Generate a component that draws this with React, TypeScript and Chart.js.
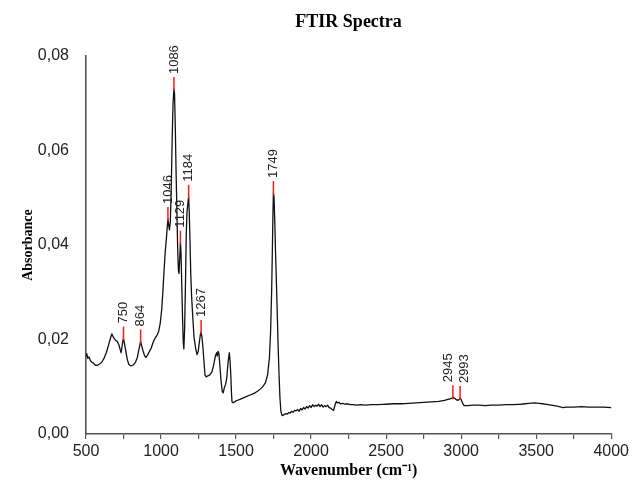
import React, { useEffect, useRef } from 'react';
import { Chart, registerables } from 'chart.js';

Chart.register(...registerables);

const wavenumbers = [
  500, 505, 512, 520, 530, 540, 550, 560, 575, 590, 605, 620, 635, 650, 662, 672, 682, 695, 708, 720,
  728, 734, 740, 746, 750, 756, 765, 775, 785, 800, 815, 830, 842, 852, 860, 864, 870, 880, 890, 898,
  906, 915, 925, 935, 945, 955, 965, 975, 985, 995, 1005, 1012, 1020, 1028, 1036, 1042, 1046, 1050, 1056, 1062,
  1068, 1074, 1080, 1086, 1090, 1095, 1100, 1106, 1111, 1116, 1120, 1125, 1129, 1133, 1138, 1143, 1148, 1152, 1157, 1163,
  1168, 1173, 1178, 1184, 1188, 1193, 1198, 1204, 1212, 1220, 1230, 1240, 1248, 1256, 1262, 1267, 1273, 1280, 1287, 1293,
  1300, 1312, 1325, 1340, 1352, 1362, 1370, 1375, 1380, 1386, 1392, 1400, 1408, 1414, 1422, 1430, 1438, 1444, 1450, 1455,
  1460, 1465, 1469, 1473, 1480, 1500, 1530, 1560, 1590, 1620, 1650, 1675, 1695, 1710, 1722, 1730, 1737, 1742, 1746, 1749,
  1753, 1758, 1763, 1769, 1775, 1780, 1786, 1792, 1798, 1805, 1812, 1820, 1830, 1840, 1850, 1860, 1870, 1880, 1890, 1900,
  1910, 1920, 1930, 1940, 1950, 1960, 1970, 1980, 1990, 2000, 2010, 2020, 2030, 2040, 2050, 2060, 2070, 2080, 2090, 2100,
  2110, 2120, 2130, 2140, 2150, 2160, 2168, 2175, 2185, 2195, 2210, 2225, 2240, 2260, 2280, 2300, 2330, 2360, 2400, 2450,
  2500, 2550, 2600, 2650, 2700, 2750, 2800, 2850, 2890, 2920, 2940, 2945, 2955, 2970, 2985, 2993, 3000, 3010, 3020, 3040,
  3080, 3120, 3160, 3200, 3250, 3300, 3350, 3400, 3450, 3490, 3520, 3560, 3600, 3640, 3680, 3700, 3750, 3800, 3850, 3900,
  3950, 4000,
];

const absorbance = [
  0.0165, 0.0170, 0.0160, 0.0163, 0.0155, 0.0152, 0.0150, 0.0146, 0.0145, 0.0148, 0.0152, 0.0160, 0.0172, 0.0188, 0.0202, 0.0212, 0.0205, 0.0199, 0.0196, 0.0188,
  0.0178, 0.0172, 0.0185, 0.0198, 0.0202, 0.0192, 0.0176, 0.0158, 0.0147, 0.0144, 0.0146, 0.0152, 0.0162, 0.0178, 0.0190, 0.0196, 0.0188, 0.0176, 0.0166, 0.0162,
  0.0165, 0.0170, 0.0176, 0.0182, 0.0192, 0.0200, 0.0205, 0.0210, 0.0218, 0.0235, 0.0265, 0.0300, 0.0345, 0.0385, 0.0415, 0.0440, 0.0455, 0.0445, 0.0432, 0.0450,
  0.0520, 0.0620, 0.0700, 0.0730, 0.0720, 0.0650, 0.0560, 0.0470, 0.0390, 0.0345, 0.0340, 0.0375, 0.0405, 0.0385, 0.0320, 0.0250, 0.0195, 0.0180, 0.0220, 0.0320,
  0.0420, 0.0470, 0.0485, 0.0502, 0.0470, 0.0410, 0.0340, 0.0290, 0.0245, 0.0205, 0.0182, 0.0168, 0.0175, 0.0196, 0.0210, 0.0216, 0.0205, 0.0180, 0.0150, 0.0125,
  0.0121, 0.0123, 0.0125, 0.0132, 0.0148, 0.0165, 0.0172, 0.0165, 0.0175, 0.0170, 0.0145, 0.0112, 0.0090, 0.0087, 0.0098, 0.0105, 0.0118, 0.0142, 0.0160, 0.0172,
  0.0155, 0.0125, 0.0090, 0.0068, 0.0066, 0.0070, 0.0074, 0.0078, 0.0082, 0.0086, 0.0092, 0.0099, 0.0108, 0.0125, 0.0160, 0.0215, 0.0300, 0.0390, 0.0470, 0.0510,
  0.0500, 0.0450, 0.0385, 0.0320, 0.0250, 0.0190, 0.0130, 0.0080, 0.0050, 0.0040, 0.0039, 0.0041, 0.0043, 0.0042, 0.0045, 0.0044, 0.0048, 0.0046, 0.0050, 0.0049,
  0.0052, 0.0048, 0.0054, 0.0051, 0.0056, 0.0053, 0.0058, 0.0055, 0.0060, 0.0056, 0.0062, 0.0058, 0.0061, 0.0059, 0.0063, 0.0058, 0.0062, 0.0057, 0.0060, 0.0058,
  0.0061, 0.0056, 0.0055, 0.0052, 0.0050, 0.0062, 0.0069, 0.0066, 0.0067, 0.0064, 0.0065, 0.0063, 0.0064, 0.0062, 0.0062, 0.0061, 0.0062, 0.0061, 0.0062, 0.0062,
  0.0063, 0.0064, 0.0064, 0.0065, 0.0066, 0.0067, 0.0068, 0.0069, 0.0071, 0.0074, 0.0076, 0.0078, 0.0076, 0.0072, 0.0072, 0.0076, 0.0073, 0.0065, 0.0060, 0.0060,
  0.0061, 0.0061, 0.0060, 0.0061, 0.0061, 0.0062, 0.0062, 0.0063, 0.0065, 0.0066, 0.0065, 0.0063, 0.0061, 0.0059, 0.0056, 0.0057, 0.0057, 0.0058, 0.0057, 0.0057,
  0.0057, 0.0056,
];

const peakWavenumbers = [750, 864, 1046, 1086, 1129, 1184, 1267, 1749, 2945, 2993];
const peakAbsorbance = [0.0202, 0.0196, 0.0455, 0.0730, 0.0405, 0.0502, 0.0216, 0.0510, 0.0078, 0.0076];

const xMajorTicks = [500, 1000, 1500, 2000, 2500, 3000, 3500, 4000];
const xMinorTicks = [750, 1250, 1750, 2250, 2750, 3250, 3750];
const yTicks = [0, 0.02, 0.04, 0.06, 0.08];

const chartTitle = 'FTIR Spectra';
const xTitle = 'Wavenumber (cm\u207B\u00B9)';
const yTitle = 'Absorbance';

// horizontal nudge of crowded peak labels (pixels)
const labelNudge: Record<number, number> = { 2945: -4, 2993: 4 };

const peakPlugin = {
  id: 'peakMarkers',
  afterDatasetsDraw(chart: any) {
    const { ctx, scales } = chart;
    const xs = scales.x;
    const ys = scales.y;
    ctx.save();
    peakWavenumbers.forEach((wn, i) => {
      const px = xs.getPixelForValue(wn);
      const py = ys.getPixelForValue(peakAbsorbance[i]);
      ctx.strokeStyle = '#ff1a1a';
      ctx.lineWidth = 1.5;
      ctx.beginPath();
      ctx.moveTo(px, py + 2);
      ctx.lineTo(px, py - 12);
      ctx.stroke();
      ctx.save();
      ctx.translate(px + (labelNudge[wn] || 0), py - 15);
      ctx.rotate(-Math.PI / 2);
      ctx.font = '13px "Liberation Sans", Arial, sans-serif';
      ctx.fillStyle = '#222';
      ctx.textAlign = 'left';
      ctx.textBaseline = 'middle';
      ctx.fillText(String(wn), 0, 0);
      ctx.restore();
    });
    ctx.restore();
  },
};

export default function App() {
  const canvasRef = useRef<HTMLCanvasElement | null>(null);

  useEffect(() => {
    if (!canvasRef.current) return;
    const points = wavenumbers.map((w, i) => ({ x: w, y: absorbance[i] }));
    const chart = new Chart(canvasRef.current, {
      type: 'line',
      data: {
        datasets: [
          {
            data: points,
            borderColor: '#111',
            borderWidth: 1.3,
            borderJoinStyle: 'round',
            borderCapStyle: 'round',
            pointRadius: 0,
            tension: 0.001,
            fill: false,
          },
        ],
      },
      options: {
        animation: false,
        responsive: false,
        layout: { padding: { left: 0, right: 19, top: 0, bottom: 0 } },
        plugins: {
          legend: { display: false },
          tooltip: { enabled: false },
          title: {
            display: true,
            text: chartTitle,
            fullSize: false,
            color: '#000',
            font: { family: '"Liberation Serif", "Times New Roman", serif', size: 18, weight: 'bold' },
            padding: { top: 12, bottom: 22.4 },
          },
        },
        scales: {
          x: {
            type: 'linear',
            min: 500,
            max: 4000,
            afterFit: (s: any) => {
              s.height = 46;
            },
            afterBuildTicks: (s: any) => {
              s.ticks = [...xMajorTicks, ...xMinorTicks].sort((a, b) => a - b).map((v) => ({ value: v }));
            },
            ticks: {
              autoSkip: false,
              maxRotation: 0,
              padding: 3,
              color: '#222',
              font: { family: '"Liberation Sans", Arial, sans-serif', size: 16 },
              callback: (v: any) => (xMajorTicks.includes(Number(v)) ? String(v) : ''),
            },
            grid: { display: true, drawOnChartArea: false, drawTicks: true, tickLength: 5, color: '#555', lineWidth: 1.2 },
            border: { display: true, color: '#555', width: 1.6 },
            title: {
              display: true,
              text: xTitle,
              color: '#000',
              font: { family: '"Liberation Serif", "Times New Roman", serif', size: 16, weight: 'bold' },
              padding: 0,
            },
          },
          y: {
            type: 'linear',
            min: 0,
            max: 0.08,
            afterFit: (s: any) => {
              s.width = 86;
            },
            afterBuildTicks: (s: any) => {
              s.ticks = yTicks.map((v) => ({ value: v }));
            },
            ticks: {
              padding: 9,
              color: '#222',
              font: { family: '"Liberation Sans", Arial, sans-serif', size: 16 },
              callback: (v: any) => Number(v).toFixed(2).replace('.', ','),
            },
            grid: { display: false },
            border: { display: true, color: '#555', width: 1.6 },
            title: {
              display: true,
              text: yTitle,
              color: '#000',
              font: { family: '"Liberation Serif", "Times New Roman", serif', size: 14, weight: 'bold' },
              padding: { top: 20, bottom: 0 },
            },
          },
        },
      },
      plugins: [peakPlugin],
    } as any);
    return () => chart.destroy();
  }, []);

  return (
    <div style={{ position: 'fixed', left: 0, top: 0, width: 632, height: 480, background: '#fff' }}>
      <canvas ref={canvasRef} width={632} height={480} style={{ width: 632, height: 480 }} />
    </div>
  );
}
